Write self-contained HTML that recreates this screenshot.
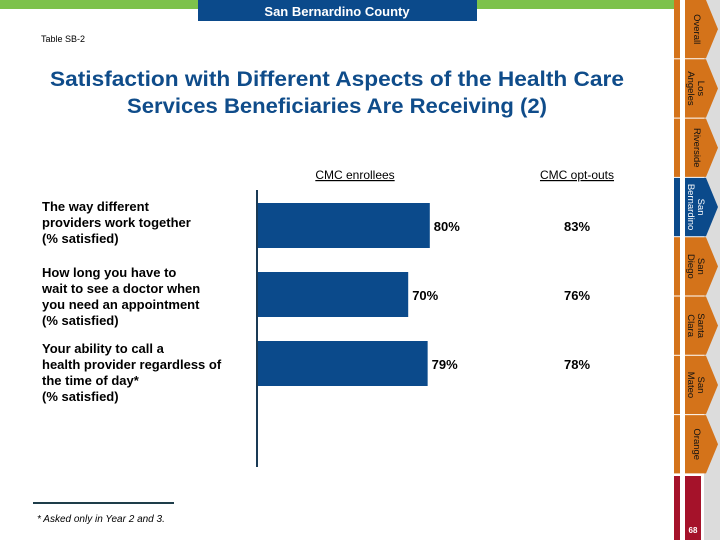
<!DOCTYPE html>
<html><head><meta charset="utf-8"><style>
body{margin:0;background:#fff}
svg{display:block;font-family:"Liberation Sans",sans-serif}
</style></head><body>
<svg width="720" height="540" viewBox="0 0 720 540">
<rect x="0" y="0" width="675" height="9" fill="#7dc24b"/>
<rect x="198" y="0" width="279" height="21" fill="#0b4a8b"/>
<text x="337" y="16" fill="#fff" font-size="13" font-weight="bold" text-anchor="middle">San Bernardino County</text>
<text x="41" y="42" font-size="9" fill="#000">Table SB-2</text>
<text x="337" y="86" font-size="21" font-weight="bold" fill="#0f4c8a" text-anchor="middle" textLength="574" lengthAdjust="spacingAndGlyphs">Satisfaction with Different Aspects of the Health Care</text>
<text x="337" y="113" font-size="21" font-weight="bold" fill="#0f4c8a" text-anchor="middle" textLength="420" lengthAdjust="spacingAndGlyphs">Services Beneficiaries Are Receiving (2)</text>
<text x="355" y="179" font-size="12" text-anchor="middle" text-decoration="underline">CMC enrollees</text>
<text x="577" y="179" font-size="12" text-anchor="middle" text-decoration="underline">CMC opt-outs</text>
<g id="labels" font-size="13" font-weight="bold" fill="#000">
<text><tspan x="42" y="211">The way different</tspan><tspan x="42" y="227">providers work together</tspan><tspan x="42" y="243">(% satisfied)</tspan></text>
<text><tspan x="42" y="277">How long you have to</tspan><tspan x="42" y="293">wait to see a doctor when</tspan><tspan x="42" y="309">you need an appointment</tspan><tspan x="42" y="325">(% satisfied)</tspan></text>
<text><tspan x="42" y="353">Your ability to call a</tspan><tspan x="42" y="369">health provider regardless of</tspan><tspan x="42" y="385">the time of day*</tspan><tspan x="42" y="401">(% satisfied)</tspan></text>
</g>
<g id="bars"></g>
<line x1="257" y1="190" x2="257" y2="467" stroke="#1a3a55" stroke-width="2"/>
<line x1="33" y1="503" x2="174" y2="503" stroke="#1e3d4a" stroke-width="2"/>
<text x="37" y="522" font-size="10" font-style="italic">* Asked only in Year 2 and 3.</text>
<rect x="704" y="0" width="16" height="540" fill="#dcdcdc"/>
<g id="tabs"></g>
<rect x="674" y="476" width="6" height="64" fill="#a5122a"/>
<rect x="685" y="476" width="16" height="64" fill="#a5122a"/>
<text x="693" y="533" font-size="8" font-weight="bold" fill="#fff" text-anchor="middle">68</text>
</svg>
<script>
const categories=["providers-work-together","wait-for-appointment","call-anytime"];
const enrollees=[80,70,79];
const optouts=[83,76,78];
const enrolleeLabels=["80%","70%","79%"];
const optoutLabels=["83%","76%","78%"];
const tabNames=[["Overall"],["Los","Angeles"],["Riverside"],["San","Bernardino"],["San","Diego"],["Santa","Clara"],["San","Mateo"],["Orange"]];
const activeTab=3;
const NS="http://www.w3.org/2000/svg";
const x0=257, pxPer=2.16;
const xs=v=>x0+v*pxPer;
const rowTop=[203,272,341];
const bh=45;
const bars=document.getElementById('bars');
categories.forEach((c,i)=>{
  const r=document.createElementNS(NS,'rect');
  r.setAttribute('x',x0);r.setAttribute('y',rowTop[i]);
  r.setAttribute('width',xs(enrollees[i])-x0);r.setAttribute('height',bh);
  r.setAttribute('fill','#0b4a8b');
  
  
  bars.appendChild(r);
  const t=document.createElementNS(NS,'text');
  t.setAttribute('x',xs(enrollees[i])+4);t.setAttribute('y',rowTop[i]+28);
  t.setAttribute('font-size','13');t.setAttribute('font-weight','bold');
  t.textContent=enrolleeLabels[i];
  
  
  bars.appendChild(t);
  const o=document.createElementNS(NS,'text');
  o.setAttribute('x',577);o.setAttribute('y',rowTop[i]+28);
  o.setAttribute('font-size','13');o.setAttribute('font-weight','bold');
  o.setAttribute('text-anchor','middle');
  o.textContent=optoutLabels[i];
  
  
  bars.appendChild(o);
});
const tabs=document.getElementById('tabs');
const th=59.3;
tabNames.forEach((n,i)=>{
  const y0=i*th, y1=y0+th-1, col=i===activeTab?'#0b4a8b':'#d4731a';
  const s=document.createElementNS(NS,'rect');
  s.setAttribute('x',674);s.setAttribute('y',y0);s.setAttribute('width',6);s.setAttribute('height',th-1);s.setAttribute('fill',col);
  
  
  tabs.appendChild(s);
  const p=document.createElementNS(NS,'polygon');
  p.setAttribute('points',`685,${y0} 706,${y0} 718,${(y0+y1)/2} 706,${y1} 685,${y1}`);
  p.setAttribute('fill',col);
  
  
  tabs.appendChild(p);
  const cy=(y0+y1)/2;
  n.forEach((line,j)=>{
    const lx = n.length===1 ? 698 : 702-j*10;
    const t=document.createElementNS(NS,'text');
    t.setAttribute('transform',`translate(${lx-4},${cy}) rotate(90)`);
    t.setAttribute('font-size','9.5');
    t.setAttribute('text-anchor','middle');
    t.setAttribute('fill',i===activeTab?'#fff':'#111');
    t.textContent=line;
    
    
    tabs.appendChild(t);
  });
});
</script>
</body></html>
